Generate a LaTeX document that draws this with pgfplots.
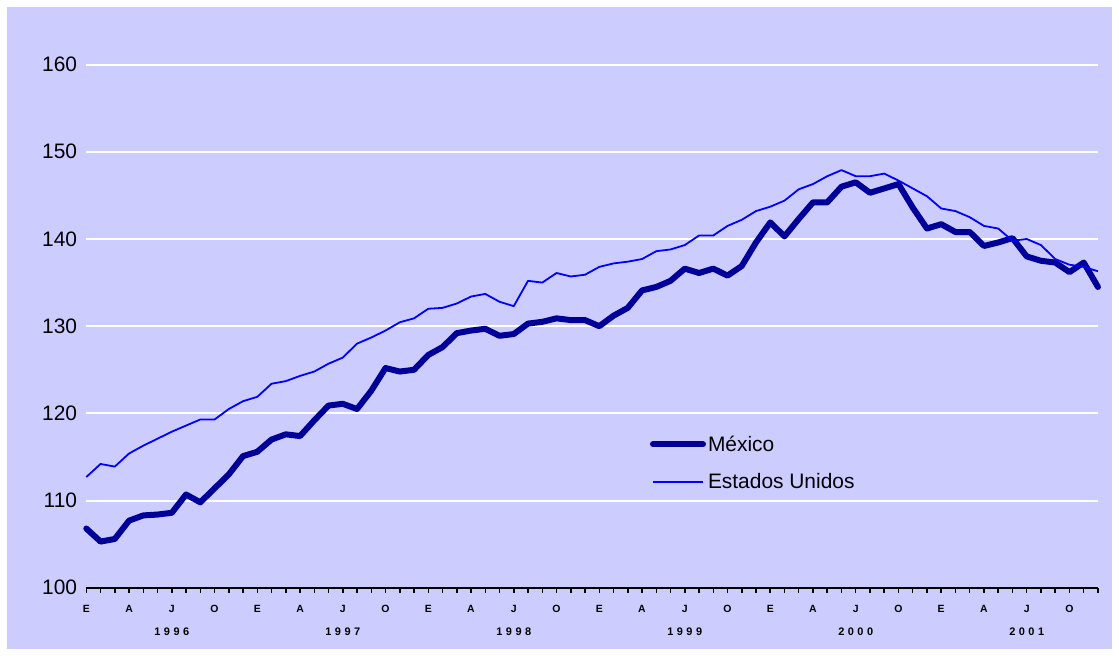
\documentclass[border=0pt]{standalone}
\usepackage{fontspec}
\setmainfont{Liberation Sans}
\usepackage{pgfplots}
\pgfplotsset{compat=1.18}
\definecolor{bg}{HTML}{CCCCFF}
\definecolor{mex}{HTML}{000099}
\definecolor{usa}{HTML}{0000FF}
\newcommand{\yearlab}[4]{#1\kern3.5bp#2\kern3.5bp#3\kern3.5bp#4}
\pgfplotstableread{
m mex usa
0 106.8 112.7
1 105.3 114.2
2 105.6 113.9
3 107.7 115.4
4 108.3 116.3
5 108.4 117.1
6 108.6 117.9
7 110.7 118.6
8 109.8 119.3
9 111.4 119.3
10 113.0 120.5
11 115.1 121.4
12 115.6 121.9
13 117.0 123.4
14 117.6 123.7
15 117.4 124.3
16 119.2 124.8
17 120.9 125.7
18 121.1 126.4
19 120.5 128.0
20 122.6 128.7
21 125.2 129.5
22 124.8 130.45
23 125.0 130.9
24 126.7 132.0
25 127.6 132.1
26 129.2 132.6
27 129.5 133.4
28 129.7 133.7
29 128.9 132.8
30 129.1 132.3
31 130.3 135.2
32 130.5 135.0
33 130.9 136.1
34 130.7 135.7
35 130.7 135.9
36 130.0 136.8
37 131.2 137.2
38 132.1 137.4
39 134.1 137.7
40 134.5 138.6
41 135.2 138.8
42 136.6 139.3
43 136.1 140.4
44 136.6 140.4
45 135.8 141.5
46 136.9 142.2
47 139.6 143.2
48 141.9 143.7
49 140.3 144.4
50 142.3 145.7
51 144.2 146.3
52 144.2 147.2
53 146.0 147.9
54 146.5 147.2
55 145.3 147.2
56 145.8 147.5
57 146.3 146.7
58 143.6 145.8
59 141.2 144.9
60 141.7 143.5
61 140.8 143.2
62 140.8 142.5
63 139.2 141.5
64 139.6 141.2
65 140.1 139.8
66 138.0 140.0
67 137.5 139.3
68 137.3 137.7
69 136.2 137.05
70 137.3 136.8
71 134.5 136.3
}\datatable
\begin{document}
\begin{tikzpicture}[x=1bp,y=1bp]
\fill[white] (0,0) rectangle (1119,656);
\fill[bg] (7,7) rectangle (1112,649);
\begin{axis}[
  at={(86.3bp,68.2bp)}, anchor=south west,
  scale only axis, width=1011.7bp, height=566.8bp,
  xmin=0, xmax=71, ymin=100, ymax=165,
  clip=false,
  axis x line*=bottom, axis y line*=left,
  x axis line style={black, line width=2bp},
  y axis line style={draw=none},
  xtick={0,...,71},
  xticklabels={E,,,A,,,J,,,O,,,E,,,A,,,J,,,O,,,E,,,A,,,J,,,O,,,E,,,A,,,J,,,O,,,E,,,A,,,J,,,O,,,E,,,A,,,J,,,O,,},
  xtick style={black, line width=1.5bp},
  major tick length=5bp, tick align=outside,
  ytick={100,110,...,160},
  yticklabels={100,110,120,130,140,150,160},
  ytick style={draw=none},
  ymajorgrids, grid style={white, line width=2bp},
  xticklabel style={font=\bfseries\fontsize{10.5}{11}\selectfont, inner sep=0pt, anchor=north, yshift=-12.5bp},
  yticklabel style={font=\fontsize{21}{25}\selectfont, inner sep=0pt, anchor=east, xshift=-4bp},
  legend style={at={(0.557,0.220)}, anchor=west, draw=none, fill=none,
    font=\fontsize{21}{25}\selectfont, row sep=17bp, inner sep=0pt},
  legend cell align=left,
  legend image code/.code={\draw[#1] (0bp,0bp) -- (50bp,0bp);},
]
\addplot[mex, line width=6bp, line join=round, line cap=round] table[x=m, y=mex] {\datatable};
\addlegendentry{México}
\addplot[usa, line width=1.8bp, line join=round] table[x=m, y=usa] {\datatable};
\addlegendentry{Estados Unidos}
\node[font=\bfseries\fontsize{11}{12}\selectfont, inner sep=0pt] at (axis cs:6,100) [yshift=-44bp] {\yearlab1996};
\node[font=\bfseries\fontsize{11}{12}\selectfont, inner sep=0pt] at (axis cs:18,100) [yshift=-44bp] {\yearlab1997};
\node[font=\bfseries\fontsize{11}{12}\selectfont, inner sep=0pt] at (axis cs:30,100) [yshift=-44bp] {\yearlab1998};
\node[font=\bfseries\fontsize{11}{12}\selectfont, inner sep=0pt] at (axis cs:42,100) [yshift=-44bp] {\yearlab1999};
\node[font=\bfseries\fontsize{11}{12}\selectfont, inner sep=0pt] at (axis cs:54,100) [yshift=-44bp] {\yearlab2000};
\node[font=\bfseries\fontsize{11}{12}\selectfont, inner sep=0pt] at (axis cs:66,100) [yshift=-44bp] {\yearlab2001};
\end{axis}
\end{tikzpicture}
\end{document}
